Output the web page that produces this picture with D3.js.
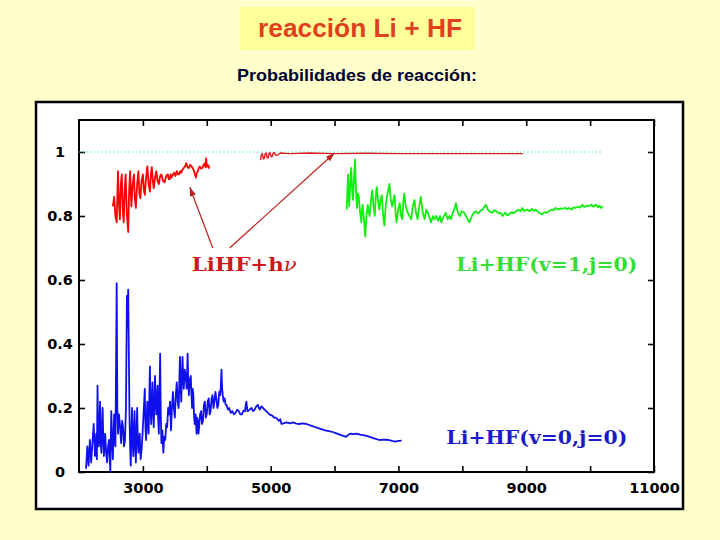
<!DOCTYPE html>
<html>
<head>
<meta charset="utf-8">
<script src="https://cdn.jsdelivr.net/npm/d3@7"></script>
<style>
  body { margin: 0; background: #ffffcc; }
  svg { display: block; }
</style>
</head>
<body>
<div id="chart"></div>
<script>
'use strict';

// chart data: [energy, probability]
const redLowData = [
  [2530, 0.83], [2550, 0.86], [2570, 0.80], [2590, 0.78], [2610, 0.94], [2625, 0.84],
  [2640, 0.79], [2655, 0.90], [2670, 0.93], [2685, 0.82], [2700, 0.78], [2715, 0.88],
  [2730, 0.93], [2750, 0.80], [2770, 0.75], [2785, 0.88], [2800, 0.94], [2820, 0.83],
  [2840, 0.90], [2860, 0.93], [2875, 0.85], [2890, 0.825], [2910, 0.90], [2930, 0.94],
  [2945, 0.87], [2960, 0.855], [2980, 0.91], [3000, 0.93], [3015, 0.88], [3030, 0.866],
  [3050, 0.92], [3070, 0.955], [3090, 0.90], [3110, 0.876], [3125, 0.93], [3140, 0.953],
  [3155, 0.91], [3170, 0.887], [3190, 0.92], [3210, 0.94], [3230, 0.91], [3250, 0.90],
  [3270, 0.925], [3290, 0.93], [3315, 0.91], [3340, 0.905], [3365, 0.925], [3390, 0.93],
  [3405, 0.915], [3420, 0.915], [3435, 0.93], [3450, 0.92], [3470, 0.93], [3490, 0.935],
  [3510, 0.925], [3530, 0.94], [3550, 0.93], [3565, 0.93], [3585, 0.94], [3600, 0.935],
  [3620, 0.945], [3640, 0.95], [3660, 0.955], [3680, 0.965], [3700, 0.952], [3720, 0.95],
  [3740, 0.96], [3760, 0.955], [3780, 0.95], [3800, 0.94], [3815, 0.93], [3830, 0.92],
  [3845, 0.935], [3860, 0.94], [3875, 0.95], [3890, 0.955], [3910, 0.948], [3930, 0.95],
  [3950, 0.96], [3970, 0.965], [3980, 0.952], [3990, 0.98], [4000, 0.955], [4015, 0.96],
  [4030, 0.95], [4040, 0.957]
];
const redHighData = [
  [4840, 0.975], [4855, 0.99], [4870, 0.995], [4885, 0.978], [4900, 0.98], [4915, 0.995],
  [4930, 0.997], [4945, 0.982], [4960, 0.982], [4975, 0.996], [4990, 0.998], [5005, 0.986],
  [5020, 0.985], [5040, 0.997], [5060, 0.998], [5080, 0.99], [5100, 0.99], [5150, 0.997],
  [5300, 0.995], [5600, 0.997], [6000, 0.995], [6500, 0.996], [7000, 0.995], [8000, 0.995],
  [8950, 0.995]
];
const greenData = [
  [6190, 0.82], [6200, 0.87], [6210, 0.93], [6220, 0.86], [6230, 0.83], [6245, 0.90],
  [6260, 0.95], [6275, 0.88], [6290, 0.85], [6305, 0.92], [6320, 0.977], [6335, 0.88],
  [6350, 0.825], [6365, 0.87], [6380, 0.86], [6400, 0.81], [6420, 0.78], [6430, 0.82],
  [6440, 0.835], [6460, 0.79], [6480, 0.735], [6500, 0.80], [6520, 0.835], [6535, 0.81],
  [6550, 0.80], [6570, 0.85], [6590, 0.88], [6610, 0.83], [6630, 0.80], [6645, 0.86],
  [6660, 0.89], [6680, 0.85], [6700, 0.82], [6720, 0.85], [6740, 0.865], [6760, 0.80],
  [6780, 0.77], [6800, 0.83], [6820, 0.86], [6840, 0.88], [6860, 0.90], [6880, 0.85],
  [6900, 0.83], [6920, 0.85], [6940, 0.865], [6955, 0.81], [6970, 0.78], [6995, 0.82],
  [7020, 0.84], [7040, 0.80], [7060, 0.79], [7075, 0.84], [7090, 0.87], [7115, 0.83],
  [7140, 0.813], [7170, 0.80], [7200, 0.79], [7225, 0.83], [7250, 0.85], [7275, 0.81],
  [7300, 0.79], [7325, 0.83], [7350, 0.86], [7380, 0.81], [7410, 0.79], [7435, 0.82],
  [7460, 0.81], [7485, 0.795], [7510, 0.78], [7540, 0.80], [7560, 0.79], [7590, 0.80],
  [7620, 0.785], [7650, 0.80], [7670, 0.78], [7700, 0.795], [7740, 0.81], [7770, 0.79],
  [7800, 0.80], [7820, 0.79], [7850, 0.81], [7880, 0.825], [7900, 0.84], [7930, 0.81],
  [7960, 0.80], [7990, 0.815], [8030, 0.81], [8070, 0.795], [8110, 0.78], [8150, 0.80],
  [8180, 0.81], [8210, 0.815], [8250, 0.808], [8290, 0.818], [8320, 0.82], [8350, 0.83],
  [8370, 0.835], [8400, 0.82], [8420, 0.815], [8460, 0.81], [8500, 0.818], [8530, 0.815],
  [8570, 0.808], [8600, 0.81], [8630, 0.80], [8670, 0.81], [8700, 0.802], [8730, 0.805],
  [8770, 0.812], [8800, 0.808], [8840, 0.815], [8880, 0.82], [8910, 0.815], [8940, 0.825],
  [8970, 0.815], [9010, 0.82], [9050, 0.815], [9090, 0.822], [9120, 0.816], [9150, 0.82],
  [9190, 0.812], [9220, 0.808], [9250, 0.805], [9290, 0.812], [9320, 0.81], [9360, 0.815],
  [9390, 0.82], [9420, 0.818], [9460, 0.825], [9500, 0.82], [9540, 0.824], [9570, 0.822],
  [9610, 0.826], [9640, 0.821], [9670, 0.825], [9710, 0.82], [9740, 0.827], [9770, 0.825],
  [9810, 0.83], [9840, 0.826], [9880, 0.835], [9910, 0.828], [9950, 0.833], [9980, 0.83],
  [10020, 0.836], [10050, 0.829], [10090, 0.835], [10120, 0.828], [10150, 0.832], [10170, 0.825],
  [10200, 0.83]
];
const blueData = [
  [2110, 0.01], [2130, 0.08], [2150, 0.02], [2170, 0.10], [2190, 0.03], [2210, 0.09],
  [2230, 0.15], [2250, 0.05], [2270, 0.12], [2280, 0.04], [2290, 0.27], [2300, 0.10],
  [2310, 0.08], [2330, 0.22], [2340, 0.09], [2350, 0.06], [2370, 0.20], [2380, 0.10],
  [2390, 0.05], [2410, 0.12], [2425, 0.06], [2440, 0.03], [2455, 0.08], [2470, 0.10],
  [2490, 0.00], [2505, 0.19], [2520, 0.09], [2530, 0.04], [2550, 0.18], [2560, 0.10],
  [2570, 0.08], [2590, 0.59], [2600, 0.20], [2610, 0.12], [2625, 0.18], [2640, 0.15],
  [2660, 0.09], [2675, 0.16], [2690, 0.14], [2705, 0.08], [2720, 0.10], [2735, 0.20],
  [2750, 0.55], [2760, 0.45], [2770, 0.57], [2790, 0.18], [2800, 0.08], [2810, 0.02],
  [2830, 0.20], [2840, 0.10], [2850, 0.05], [2870, 0.19], [2880, 0.08], [2890, 0.03],
  [2910, 0.20], [2920, 0.10], [2930, 0.06], [2950, 0.12], [2965, 0.04], [2980, 0.07],
  [3000, 0.14], [3010, 0.18], [3030, 0.26], [3040, 0.14], [3050, 0.10], [3070, 0.22],
  [3080, 0.15], [3090, 0.12], [3110, 0.33], [3120, 0.20], [3130, 0.15], [3150, 0.28],
  [3160, 0.19], [3170, 0.14], [3190, 0.30], [3200, 0.22], [3210, 0.18], [3230, 0.27],
  [3240, 0.16], [3250, 0.12], [3270, 0.37], [3280, 0.18], [3290, 0.09], [3305, 0.13],
  [3320, 0.06], [3335, 0.11], [3350, 0.10], [3365, 0.15], [3380, 0.14], [3395, 0.20],
  [3410, 0.18], [3425, 0.22], [3440, 0.13], [3455, 0.20], [3470, 0.25], [3485, 0.20],
  [3500, 0.17], [3515, 0.24], [3530, 0.28], [3545, 0.22], [3560, 0.20], [3580, 0.36],
  [3590, 0.27], [3600, 0.22], [3620, 0.36], [3630, 0.30], [3640, 0.26], [3655, 0.32],
  [3670, 0.30], [3685, 0.26], [3700, 0.37], [3710, 0.28], [3720, 0.24], [3735, 0.29],
  [3750, 0.30], [3760, 0.24], [3770, 0.20], [3780, 0.26], [3790, 0.24], [3800, 0.18],
  [3810, 0.15], [3825, 0.18], [3840, 0.12], [3850, 0.17], [3860, 0.16], [3870, 0.12],
  [3880, 0.14], [3895, 0.18], [3910, 0.19], [3925, 0.15], [3940, 0.16], [3955, 0.21],
  [3970, 0.22], [3985, 0.17], [4000, 0.18], [4015, 0.22], [4030, 0.23], [4045, 0.18],
  [4060, 0.19], [4075, 0.23], [4090, 0.24], [4105, 0.20], [4120, 0.22], [4135, 0.25],
  [4150, 0.23], [4165, 0.20], [4180, 0.21], [4195, 0.25], [4210, 0.24], [4220, 0.27],
  [4230, 0.32], [4240, 0.26], [4250, 0.24], [4265, 0.22], [4280, 0.23], [4295, 0.21],
  [4310, 0.21], [4330, 0.195], [4350, 0.20], [4375, 0.185], [4400, 0.19], [4425, 0.18],
  [4450, 0.185], [4475, 0.195], [4500, 0.19], [4525, 0.18], [4550, 0.18], [4575, 0.192],
  [4600, 0.19], [4610, 0.21], [4620, 0.22], [4630, 0.2], [4640, 0.19], [4670, 0.195],
  [4700, 0.20], [4725, 0.19], [4750, 0.195], [4775, 0.205], [4800, 0.21], [4815, 0.2],
  [4830, 0.195], [4855, 0.205], [4880, 0.20], [4905, 0.195], [4930, 0.19], [4955, 0.186],
  [4980, 0.18], [5005, 0.178], [5030, 0.175], [5055, 0.17], [5080, 0.17], [5105, 0.165],
  [5130, 0.16], [5150, 0.165], [5170, 0.15], [5210, 0.153], [5250, 0.155], [5300, 0.152],
  [5350, 0.155], [5400, 0.151], [5450, 0.15], [5500, 0.152], [5560, 0.15], [5630, 0.145],
  [5700, 0.14], [5780, 0.135], [5850, 0.13], [5910, 0.128], [5970, 0.125], [6040, 0.12],
  [6100, 0.115], [6140, 0.113], [6180, 0.11], [6220, 0.117], [6250, 0.12], [6300, 0.118],
  [6340, 0.12], [6400, 0.117], [6450, 0.115], [6500, 0.113], [6550, 0.11], [6620, 0.105],
  [6700, 0.10], [6780, 0.101], [6850, 0.10], [6900, 0.097], [6950, 0.095], [7000, 0.097],
  [7050, 0.098]
];

const xTicks = [3000, 4000, 5000, 6000, 7000, 8000, 9000, 10000, 11000];
const xTickLabels = ["3000", "", "5000", "", "7000", "", "9000", "", "11000"];
const yTicks = [0, 0.2, 0.4, 0.6, 0.8, 1];
const yTickLabels = ["0", "0.2", "0.4", "0.6", "0.8", "1"];

const unityLine = [[2000, 1], [10200, 1]];

// arrows from the LiHF+hv label to the two red curves
const arrows = [
  { from: [4094, 0.70], to: [3734, 0.89] },
  { from: [4359, 0.70], to: [6000, 0.997] }
];
// each label: plain part and an italic tail (the nu of h-nu)
const seriesLabels = [
  { text: "LiHF+h", italic: "\u03bd", x: 3766, y: 0.628, len: 105, color: "#cc1a1a" },
  { text: "Li+HF(v=1,j=0)", italic: "", x: 7906, y: 0.628, len: 181, color: "#33dd33" },
  { text: "Li+HF(v=0,j=0)", italic: "", x: 7750, y: 0.0875, len: 181, color: "#1a1acc" }
];

const width = 720, height = 540;

const svg = d3.select("#chart").append("svg")
    .attr("width", width)
    .attr("height", height);

svg.append("rect")
    .attr("width", width).attr("height", height)
    .attr("fill", "#ffffcc");

// title box
svg.append("rect")
    .attr("x", 240).attr("y", 7)
    .attr("width", 235).attr("height", 43)
    .attr("fill", "#ffff99");

svg.append("text")
    .attr("x", 360).attr("y", 37)
    .attr("text-anchor", "middle")
    .attr("font-family", "Liberation Sans, Arial, sans-serif")
    .attr("font-weight", "bold")
    .attr("font-size", 25)
    .attr("fill", "#e0401c")
    .attr("textLength", 204)
    .attr("lengthAdjust", "spacingAndGlyphs")
    .text("reacción Li + HF");

svg.append("text")
    .attr("x", 357).attr("y", 81)
    .attr("text-anchor", "middle")
    .attr("font-family", "Liberation Sans, Arial, sans-serif")
    .attr("font-weight", "bold")
    .attr("font-size", 17)
    .attr("fill", "#000033")
    .attr("textLength", 240)
    .attr("lengthAdjust", "spacingAndGlyphs")
    .text("Probabilidades de reacción:");

// white panel holding the plot
svg.append("rect")
    .attr("x", 36).attr("y", 102)
    .attr("width", 647).attr("height", 407)
    .attr("fill", "#ffffff")
    .attr("stroke", "#000")
    .attr("stroke-width", 2.5);

const x = d3.scaleLinear().domain([2000, 11000]).range([79, 654]);
const y = d3.scaleLinear().domain([0, 1.1]).range([472, 120]);

const tickFont = "DejaVu Sans, Verdana, sans-serif";

// axes: ticks point inward, mirrored on top and right
svg.append("g")
    .attr("transform", "translate(0," + y(0) + ")")
    .call(d3.axisBottom(x).tickValues(xTicks)
        .tickSizeInner(-6).tickSizeOuter(0).tickPadding(10.5)
        .tickFormat((d, i) => xTickLabels[i]));
svg.append("g")
    .attr("transform", "translate(0," + y(1.1) + ")")
    .call(d3.axisTop(x).tickValues(xTicks)
        .tickSizeInner(-6).tickSizeOuter(0).tickFormat(""));
const yAxis = svg.append("g")
    .attr("transform", "translate(" + x(2000) + ",0)")
    .call(d3.axisLeft(y).tickValues(yTicks)
        .tickSizeInner(-6).tickSizeOuter(0).tickPadding(19)
        .tickFormat((d, i) => yTickLabels[i]));
svg.append("g")
    .attr("transform", "translate(" + x(11000) + ",0)")
    .call(d3.axisRight(y).tickValues(yTicks)
        .tickSizeInner(-6).tickSizeOuter(0).tickFormat(""));

svg.selectAll(".domain").remove();
svg.selectAll(".tick line").attr("stroke", "#000").attr("stroke-width", 1.6);
svg.selectAll(".tick text")
    .attr("font-family", tickFont)
    .attr("font-weight", "bold")
    .attr("font-size", 14.5)
    .attr("fill", "#000");
yAxis.selectAll(".tick text").attr("text-anchor", "middle");

svg.append("rect")
    .attr("x", x(2000)).attr("y", y(1.1))
    .attr("width", x(11000) - x(2000))
    .attr("height", y(0) - y(1.1))
    .attr("fill", "none")
    .attr("stroke", "#000")
    .attr("stroke-width", 2);

const line = d3.line()
    .x(d => x(d[0]))
    .y(d => y(d[1]));

svg.append("path")
    .datum(unityLine)
    .attr("d", line)
    .attr("fill", "none")
    .attr("stroke", "#33cccc")
    .attr("stroke-width", 1.2)
    .attr("stroke-dasharray", "1.2,2.6");

const curves = [
  { data: blueData, color: "#1010ee", w: 1.8 },
  { data: greenData, color: "#11ee11", w: 1.8 },
  { data: redLowData, color: "#ff0000", w: 1.8 },
  { data: redHighData, color: "#dd2222", w: 1.4 }
];

svg.selectAll("path.curve")
    .data(curves)
    .enter().append("path")
    .attr("class", "curve")
    .attr("d", d => line(d.data))
    .attr("fill", "none")
    .attr("stroke", d => d.color)
    .attr("stroke-width", d => d.w)
    .attr("stroke-linejoin", "round");

svg.append("defs").append("marker")
    .attr("id", "head")
    .attr("viewBox", "0 0 10 10")
    .attr("refX", 10).attr("refY", 5)
    .attr("markerWidth", 9).attr("markerHeight", 9)
    .attr("markerUnits", "userSpaceOnUse")
    .attr("orient", "auto")
    .append("path")
    .attr("d", "M0,1.5L10,5L0,8.5Z")
    .attr("fill", "#c02020");

svg.selectAll("line.arrow")
    .data(arrows)
    .enter().append("line")
    .attr("class", "arrow")
    .attr("x1", d => x(d.from[0])).attr("y1", d => y(d.from[1]))
    .attr("x2", d => x(d.to[0])).attr("y2", d => y(d.to[1]))
    .attr("stroke", "#c02020")
    .attr("stroke-width", 1.2)
    .attr("marker-end", "url(#head)");

const labels = svg.selectAll("text.label")
    .data(seriesLabels)
    .enter().append("text")
    .attr("class", "label")
    .attr("x", d => x(d.x)).attr("y", d => y(d.y))
    .attr("font-family", "DejaVu Serif, serif")
    .attr("font-weight", "bold")
    .attr("font-size", 18)
    .attr("fill", d => d.color)
    .attr("textLength", d => d.len)
    .attr("lengthAdjust", "spacingAndGlyphs");
labels.append("tspan").text(d => d.text);
labels.filter(d => d.italic !== "")
    .append("tspan")
    .attr("font-style", "italic")
    .attr("font-weight", "normal")
    .text(d => d.italic);
</script>
</body>
</html>
